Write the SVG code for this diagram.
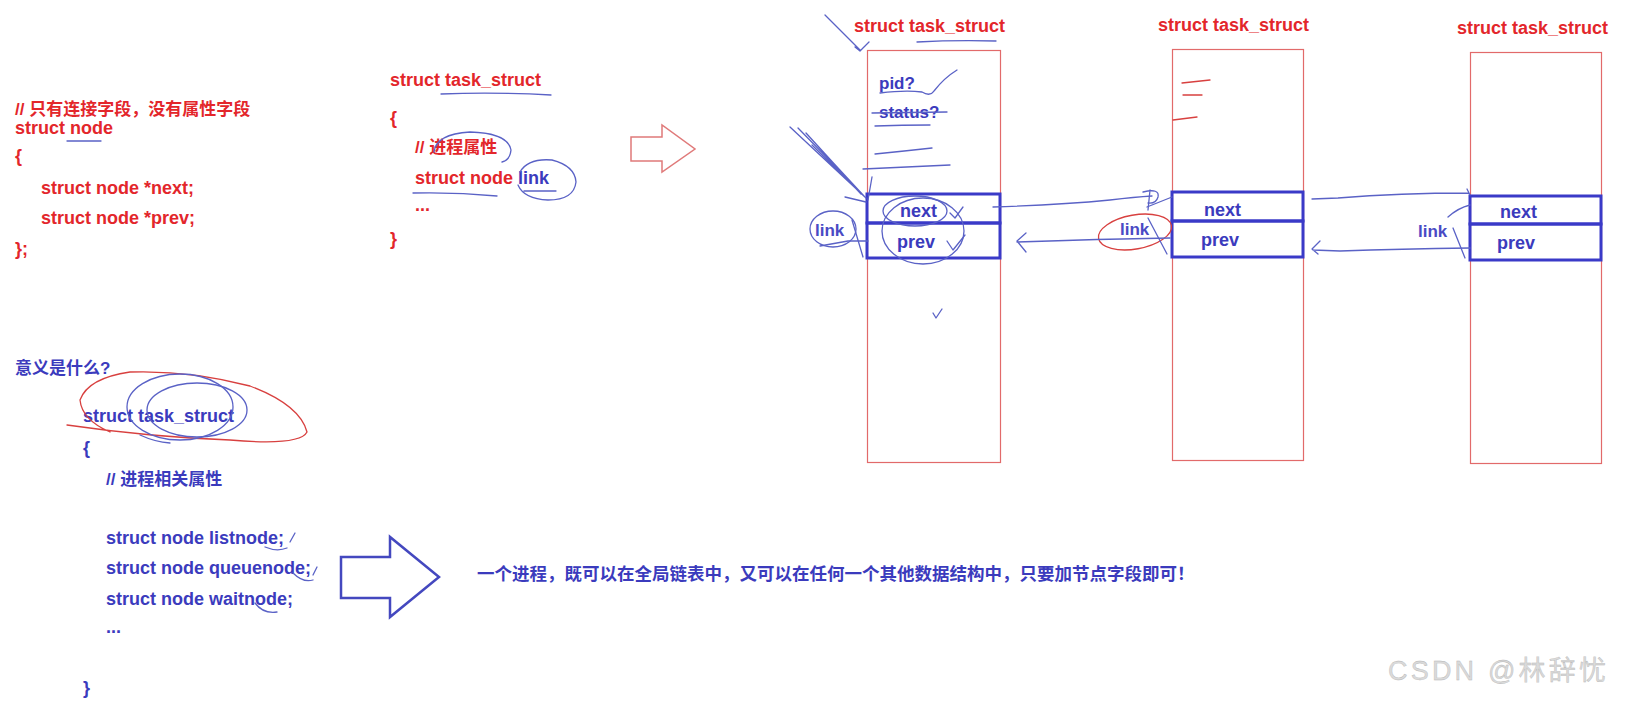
<svg xmlns="http://www.w3.org/2000/svg" width="1627" height="702" viewBox="0 0 1627 702">
<style>
text{font-family:"Liberation Sans","Noto Sans CJK SC",sans-serif;font-weight:bold;font-size:18px}
.r{fill:#e3262b}
.b{fill:#3b3bbd}
.lb{fill:#4a4ac4}
.cn{font-size:17px}
.sm{font-size:17px}
.outer{fill:#fff;stroke:#e26a6a;stroke-width:1.2}
.field{fill:none;stroke:#3a3ac8;stroke-width:3}
.pen{fill:none;stroke:#5a62c6;stroke-width:1.3;stroke-linecap:round;stroke-linejoin:round}
.rpen{fill:none;stroke:#d8403f;stroke-width:1.3;stroke-linecap:round;stroke-linejoin:round}
.wm{font-family:"Liberation Sans","Noto Sans CJK SC",sans-serif;font-weight:normal;font-size:27px;fill:#dadada;stroke:#b4b4b4;stroke-width:0.35;letter-spacing:3.2px}
</style>
<rect width="1627" height="702" fill="#ffffff"/>

<g id="code-node">
<text class="r cn" x="15" y="115">// 只有连接字段，没有属性字段</text>
<text class="r" x="15" y="134">struct node</text>
<text class="r" x="15" y="162">{</text>
<text class="r" x="41" y="194">struct node *next;</text>
<text class="r" x="41" y="224">struct node *prev;</text>
<text class="r" x="15" y="255">};</text>
<path class="pen" d="M67 141 L101 141"/>
</g>

<g id="code-task">
<text class="r" x="390" y="86">struct task_struct</text>
<text class="r" x="390" y="124">{</text>
<text class="r cn" x="415" y="153">// 进程属性</text>
<text class="r" x="415" y="184">struct node <tspan class="b">link</tspan></text>
<text class="r" x="415" y="211">...</text>
<text class="r" x="390" y="245">}</text>
<path class="pen" d="M441 94 Q495 92 551 95"/>
<path class="pen" d="M434 152 Q436 134 470 132 Q508 133 511 150 Q510 160 502 162"/>
<path class="pen" d="M520 172 Q528 158 552 160 Q575 166 576 182 Q574 200 548 200 Q524 199 518 185 M524 191 L556 191"/>
<path class="pen" d="M413 193 Q455 192 497 196"/>
</g>

<g id="arrow-red">
<polygon points="631,137 662,137 662,125 695,149 662,172 662,161 631,161" fill="#fff" stroke="#e07a7a" stroke-width="1.5"/>
</g>

<g id="task1">
<text class="r" x="854" y="32">struct task_struct</text>
<rect class="outer" x="867.5" y="50.5" width="133" height="412"/>
<rect class="field" x="867" y="194" width="133" height="29"/>
<rect class="field" x="867" y="223" width="133" height="35"/>
<text class="b" x="900" y="217">next</text>
<text class="b" x="897" y="248">prev</text>
<text class="b sm" x="879" y="89">pid?</text>
<text class="b sm" x="879" y="118">status?</text>
<path class="pen" d="M825 15 L860 50 M855 47 L860 51 L869 42"/>
<path class="pen" d="M917 42 Q955 40 996 41"/>
<path class="pen" d="M880 93 Q905 90 922 92 Q930 97 934 91 Q944 78 957 70"/>
<path class="pen" d="M872 113 L947 112 M875 126 Q902 125 930 125"/>
<path class="pen" d="M875 154 Q905 151 932 148 M863 169 Q905 167 950 165"/>
<ellipse class="pen" cx="915" cy="211" rx="32" ry="15"/>
<ellipse class="pen" cx="923" cy="231" rx="41" ry="33"/>
<path class="pen" d="M950 213 L955 218 L963 207 M947 241 L953 250 L965 235"/>
<path class="pen" d="M933 313 L936 318 L942 309"/>
</g>

<g id="task2">
<text class="r" x="1158" y="31">struct task_struct</text>
<rect class="outer" x="1172.5" y="49.5" width="131" height="411"/>
<rect class="field" x="1172" y="192" width="131" height="29"/>
<rect class="field" x="1172" y="221" width="131" height="36"/>
<text class="b" x="1204" y="216">next</text>
<text class="b" x="1201" y="246">prev</text>
<path class="rpen" d="M1182 83 L1210 80 M1183 95 L1202 95 M1173 120 L1197 117"/>
</g>

<g id="task3">
<text class="r" x="1457" y="34">struct task_struct</text>
<rect class="outer" x="1470.5" y="52.5" width="131" height="411"/>
<rect class="field" x="1470" y="196" width="131" height="28"/>
<rect class="field" x="1470" y="224" width="131" height="36"/>
<text class="b" x="1500" y="218">next</text>
<text class="b" x="1497" y="249">prev</text>
</g>

<g id="links">
<text class="lb sm" x="815" y="236">link</text>
<ellipse class="pen" cx="833" cy="229" rx="23" ry="18"/>
<path class="pen" d="M820 246 L848 241 L868 241 M852 220 L863 257"/>
<path class="pen" d="M790 127 L866 198 M798 128 Q830 160 861 194 M806 133 Q835 165 864 196 M812 145 L858 190 M872 177 L868 200 M845 197 L866 202"/>
<text class="lb sm" x="1120" y="235">link</text>
<ellipse class="rpen" cx="1135" cy="232" rx="37" ry="17" transform="rotate(-10 1135 232)"/>
<path class="pen" d="M1148 218 L1167 254 M1147 207 L1172 197"/>
<text class="lb sm" x="1418" y="237">link</text>
<path class="pen" d="M1453 228 L1465 258 M1448 217 Q1458 208 1470 205"/>
</g>

<g id="connectors">
<path class="pen" d="M993 207 Q1060 205 1110 200 Q1135 197 1152 196"/>
<path class="pen" d="M1143 192 Q1160 188 1158 197 Q1156 204 1148 203 M1150 190 L1148 210"/>
<path class="pen" d="M1170 238 Q1100 239 1017 242 M1026 233 L1017 241 L1026 252"/>
<path class="pen" d="M1312 199 L1338 198 Q1400 193 1469 193 M1467 189 L1470 195"/>
<path class="pen" d="M1470 248 Q1400 249 1340 251 L1313 250 M1320 241 L1312 249 L1318 254"/>
</g>

<g id="code-bottom">
<text class="b cn" x="15" y="374">意义是什么?</text>
<text class="b" x="83" y="422">struct task_struct</text>
<text class="b" x="83" y="454">{</text>
<text class="b cn" x="106" y="485">// 进程相关属性</text>
<text class="b" x="106" y="544">struct node listnode;</text>
<text class="b" x="106" y="574">struct node queuenode;</text>
<text class="b" x="106" y="605">struct node waitnode;</text>
<text class="b" x="106" y="633">...</text>
<text class="b" x="83" y="694">}</text>
<path class="rpen" d="M67 425 Q150 437 230 440 Q300 446 307 432 Q300 405 250 386 Q190 370 130 372 Q88 378 80 400 Q82 420 110 432"/>
<ellipse class="pen" cx="180" cy="407" rx="53" ry="33"/>
<ellipse class="pen" cx="197" cy="410" rx="50" ry="27"/>
<path class="pen" d="M140 435 Q155 442 170 443"/>
<path class="pen" d="M265 547 Q277 552 287 548 M290 542 L295 533"/>
<path class="pen" d="M293 573 Q303 583 313 580 M317 567 L313 575"/>
<path class="pen" d="M255 603 Q263 614 277 612"/>
</g>

<g id="arrow-blue">
<polygon points="341,557 390,557 390,537 439,577 390,617 390,598 341,598" fill="#fff" stroke="#4448bf" stroke-width="2.5"/>
</g>

<g id="summary">
<text class="b" style="font-size:17.5px" x="477" y="580">一个进程，既可以在全局链表中，又可以在任何一个其他数据结构中，只要加节点字段即可！</text>
</g>

<text class="wm" x="1388" y="680">CSDN @林辞忧</text>
</svg>
